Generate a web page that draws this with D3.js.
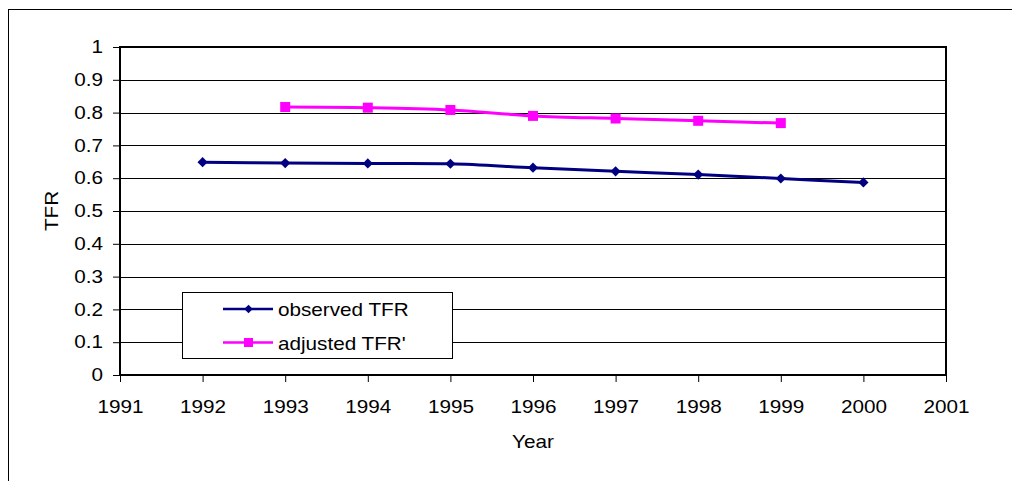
<!DOCTYPE html>
<html>
<head>
<meta charset="utf-8">
<script src="https://cdn.jsdelivr.net/npm/d3@7"></script>
<style>
  html, body { margin: 0; padding: 0; background: #fff; }
  svg { display: block; font-family: "Liberation Sans", Arial, Helvetica, sans-serif; }
</style>
</head>
<body>
<svg id="chart" width="1012" height="481"></svg>
<script>
// Total fertility rate by year
const observedYears = [1992, 1993, 1994, 1995, 1996, 1997, 1998, 1999, 2000];
const observedTFR   = [0.649, 0.646, 0.645, 0.644, 0.632, 0.621, 0.611, 0.599, 0.587];
const adjustedYears = [1993, 1994, 1995, 1996, 1997, 1998, 1999];
const adjustedTFR   = [0.817, 0.815, 0.808, 0.790, 0.782, 0.775, 0.768];
const xTicks = [1991, 1992, 1993, 1994, 1995, 1996, 1997, 1998, 1999, 2000, 2001];
const yTicks = [0, 0.1, 0.2, 0.3, 0.4, 0.5, 0.6, 0.7, 0.8, 0.9, 1];
const seriesNames = ["observed TFR", "adjusted TFR'"];

const svg = d3.select("#chart");
const W = 1012, H = 481;
const plot = { left: 120, top: 47, right: 946, bottom: 375 };
const FS = 18;        // label font size
const SX = 1.15;      // horizontal widening of the lettering

// widen text horizontally around its anchor point
function widen(sel) {
  sel.each(function () {
    const t = d3.select(this);
    const ax = +t.attr("x") || 0;
    t.attr("transform", `translate(${ax},0) scale(${SX},1) translate(${-ax},0)`);
  });
}

// outer chart frame (runs off the right and bottom edges)
svg.append("rect")
  .attr("x", 8.5).attr("y", 9.5)
  .attr("width", W + 10).attr("height", H + 10)
  .attr("fill", "#fff").attr("stroke", "#000").attr("stroke-width", 1);

const x = d3.scaleLinear().domain([1991, 2001]).range([plot.left, plot.right]);
const y = d3.scaleLinear().domain([0, 1]).range([plot.bottom, plot.top]);

// horizontal gridlines
svg.append("g").selectAll("line").data(yTicks).join("line")
  .attr("x1", plot.left).attr("x2", plot.right)
  .attr("y1", d => Math.round(y(d)) + 0.5).attr("y2", d => Math.round(y(d)) + 0.5)
  .attr("stroke", "#000").attr("stroke-width", 1);

// y axis
const yAxis = svg.append("g")
  .attr("transform", `translate(${plot.left},0)`)
  .call(d3.axisLeft(y).tickValues(yTicks).tickSize(7).tickPadding(10)
    .tickFormat(d => d3.format("~g")(d)));
yAxis.select(".domain").remove();
yAxis.selectAll("text").attr("font-size", FS).attr("fill", "#000")
  .attr("font-family", "'Liberation Sans', Arial, sans-serif")
  .call(widen);
yAxis.selectAll("line").attr("stroke", "#000");

// x axis
const xAxis = svg.append("g")
  .attr("transform", `translate(0,${plot.bottom})`)
  .call(d3.axisBottom(x).tickValues(xTicks).tickSize(7).tickPadding(18)
    .tickFormat(d3.format("d")));
xAxis.select(".domain").remove();
xAxis.selectAll("text").attr("font-size", FS).attr("fill", "#000")
  .attr("font-family", "'Liberation Sans', Arial, sans-serif")
  .attr("dy", null).attr("y", 38)
  .call(widen);
xAxis.selectAll("line").attr("stroke", "#000");

// plot area border
svg.append("rect")
  .attr("x", plot.left).attr("y", plot.top)
  .attr("width", plot.right - plot.left).attr("height", plot.bottom - plot.top)
  .attr("fill", "none").attr("stroke", "#000").attr("stroke-width", 2);

// axis titles
svg.append("text")
  .attr("x", 533).attr("y", 448)
  .attr("text-anchor", "middle").attr("font-size", FS).text("Year")
  .call(widen);
svg.append("g")
  .attr("transform", `translate(58,211) rotate(-90)`)
  .append("text")
  .attr("x", 0).attr("y", 0)
  .attr("text-anchor", "middle").attr("font-size", FS).text("TFR")
  .call(widen);

// series lines
const line = d3.line()
  .x(d => x(d[0])).y(d => y(d[1]))
  .curve(d3.curveCatmullRom.alpha(0.5));

const obs = observedYears.map((yr, i) => [yr, observedTFR[i]]);
const adj = adjustedYears.map((yr, i) => [yr, adjustedTFR[i]]);

svg.append("path").datum(obs).attr("d", line)
  .attr("fill", "none").attr("stroke", "#000080").attr("stroke-width", 3);
svg.append("path").datum(adj).attr("d", line)
  .attr("fill", "none").attr("stroke", "#FF00FF").attr("stroke-width", 3);

// markers: diamonds for observed, squares for adjusted
svg.append("g").selectAll("rect").data(obs).join("rect")
  .attr("x", -3.6).attr("y", -3.6).attr("width", 7.2).attr("height", 7.2)
  .attr("transform", d => `translate(${x(d[0])},${y(d[1])}) rotate(45)`)
  .attr("fill", "#000080");
svg.append("g").selectAll("rect").data(adj).join("rect")
  .attr("x", d => x(d[0]) - 5).attr("y", d => y(d[1]) - 5)
  .attr("width", 10).attr("height", 10)
  .attr("fill", "#FF00FF");

// legend
const lg = svg.append("g");
lg.append("rect")
  .attr("x", 182.5).attr("y", 292.5).attr("width", 270).attr("height", 66)
  .attr("fill", "#fff").attr("stroke", "#000").attr("stroke-width", 1);
const legendRows = [
  { name: seriesNames[0], color: "#000080", marker: "diamond", cy: 309 },
  { name: seriesNames[1], color: "#FF00FF", marker: "square", cy: 342.5 }
];
legendRows.forEach(r => {
  lg.append("line").attr("x1", 223).attr("x2", 273)
    .attr("y1", r.cy).attr("y2", r.cy)
    .attr("stroke", r.color).attr("stroke-width", 2.5);
  if (r.marker === "diamond") {
    lg.append("rect")
      .attr("x", -3).attr("y", -3).attr("width", 6).attr("height", 6)
      .attr("transform", `translate(248.5,${r.cy}) rotate(45)`)
      .attr("fill", r.color);
  } else {
    lg.append("rect").attr("x", 244).attr("y", r.cy - 4.5)
      .attr("width", 9).attr("height", 9).attr("fill", r.color);
  }
  lg.append("text").attr("x", 278).attr("y", r.cy + 7.5)
    .attr("font-size", FS).attr("fill", "#000").text(r.name)
    .call(widen);
});
</script>
</body>
</html>
